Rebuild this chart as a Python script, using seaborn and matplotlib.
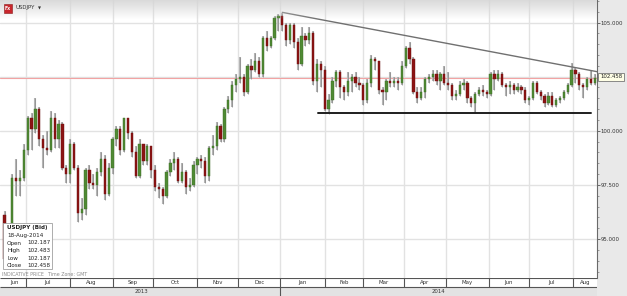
import numpy as np
import pandas as pd
import matplotlib
matplotlib.use("Agg")
import matplotlib.pyplot as plt
import seaborn as sns
from matplotlib.patches import Rectangle
from matplotlib.ticker import MultipleLocator, FixedLocator, FuncFormatter

sns.set_theme(style="white")
plt.rcParams['font.family'] = ['DejaVu Sans']

# ---- data: two-trading-day candles, USDJPY (Bid), 13-Jun-2013 .. 18-Aug-2014 ----
opens = [
    96.1, 94.1, 95.3, 97.8, 97.7, 97.8,
    99.1, 100.6, 100.1, 101.0, 99.6, 99.2, 99.1, 100.6, 99.6, 100.3, 98.3, 98.0,
    99.4, 98.3, 96.2, 96.4, 98.2, 97.6, 97.5, 98.1, 98.7, 97.1,
    98.3, 99.6, 100.1, 99.1, 100.6, 99.9, 99.0, 97.9, 99.4, 98.6, 99.3,
    98.2, 97.4, 97.3, 97.0, 98.1, 98.5, 98.7, 97.7, 98.1, 97.4, 97.5,
    98.4, 98.7, 98.6, 97.9, 99.2, 99.3, 100.2, 99.6, 101.0, 101.4, 102.1,
    102.4, 102.5, 101.8, 103.0, 102.8, 103.2, 102.6, 104.3, 103.9, 104.3, 105.2,
    105.3, 104.9, 104.2, 104.9, 104.1, 103.1, 104.4, 104.2, 104.5, 102.3, 103.1, 102.8,
    101.0, 101.4, 102.3, 102.7, 102.0, 101.8, 102.3, 102.5, 102.2, 102.1,
    101.4, 102.2, 103.3, 103.2, 101.9, 101.8, 102.3, 102.2, 102.3, 102.2,
    103.0, 103.8, 103.3, 101.8, 101.5, 101.8, 102.4, 102.5, 102.6, 102.3, 102.6,
    102.2, 102.1, 101.6, 101.7, 102.1, 102.2, 101.5, 101.3, 101.7, 101.9, 101.8,
    101.7, 102.6, 102.4, 102.6, 102.1, 102.0, 102.1, 101.9, 102.0, 101.9,
    101.4, 101.5, 102.2, 101.8, 101.6, 101.3, 101.6, 101.2, 101.4, 101.5, 101.8,
    102.1, 102.8, 102.6, 102.1, 102.0, 102.4, 102.19,
]
highs = [
    96.3, 95.6, 98.0, 98.7, 98.2, 99.4,
    100.7, 100.8, 101.5, 101.1, 99.8, 100.0, 100.9, 100.8, 100.5, 100.4, 98.4, 99.6,
    99.5, 98.4, 96.9, 98.3, 98.4, 98.0, 98.3, 99.0, 98.9, 98.5,
    99.7, 100.2, 100.2, 100.6, 100.6, 100.0, 99.3, 99.6, 99.4, 99.4, 99.3,
    98.4, 97.6, 97.4, 98.2, 98.7, 99.0, 98.8, 98.5, 98.2, 97.8, 98.6,
    98.8, 98.9, 98.8, 99.3, 99.8, 100.4, 100.3, 101.1, 101.6, 102.3, 102.6,
    103.4, 102.6, 103.1, 103.3, 103.6, 103.4, 104.4, 104.6, 104.4, 105.3, 105.4,
    105.44, 105.0, 105.0, 105.0, 104.3, 104.8, 104.5, 104.8, 104.6, 103.3, 103.2, 103.0,
    101.7, 102.5, 102.8, 102.8, 102.1, 102.7, 102.6, 102.7, 102.5, 102.2,
    102.4, 103.5, 103.4, 103.2, 102.0, 102.4, 102.7, 102.5, 102.5, 103.2,
    103.9, 104.1, 103.4, 102.0, 102.0, 102.5, 102.6, 102.8, 102.8, 102.7, 103.0,
    102.7, 102.2, 101.9, 102.3, 102.4, 102.3, 101.6, 101.8, 102.0, 102.1, 101.9,
    102.7, 102.8, 102.8, 102.7, 102.2, 102.3, 102.2, 102.2, 102.1, 102.0,
    101.6, 102.3, 102.3, 101.9, 101.7, 101.8, 101.8, 101.5, 101.6, 101.9, 102.2,
    103.15, 102.9, 102.7, 102.2, 102.5, 102.8, 102.6,
]
lows = [
    93.8, 94.0, 95.1, 97.0, 97.0, 97.7,
    98.9, 99.1, 99.9, 99.3, 98.3, 98.9, 99.0, 99.2, 99.2, 98.2, 97.6, 97.6,
    98.2, 95.8, 95.9, 96.1, 97.3, 97.3, 97.0, 97.9, 96.8, 97.0,
    98.0, 99.3, 98.9, 99.0, 99.6, 98.8, 97.8, 97.8, 98.4, 98.4, 97.8,
    97.2, 96.9, 96.6, 96.9, 97.9, 98.2, 97.6, 97.6, 97.1, 97.2, 97.4,
    98.0, 98.3, 97.6, 97.7, 98.9, 99.1, 99.5, 99.5, 100.8, 101.1, 101.8,
    102.2, 101.6, 101.7, 102.4, 102.7, 102.5, 102.5, 103.7, 103.8, 104.2, 104.6,
    104.6, 103.9, 104.0, 103.8, 102.8, 103.0, 103.9, 104.0, 102.1, 101.8, 102.0, 100.9,
    100.76, 101.3, 102.0, 101.5, 101.4, 101.6, 101.8, 102.0, 101.9, 101.2,
    101.3, 102.0, 102.8, 101.7, 101.2, 101.4, 102.0, 102.0, 101.9, 102.1,
    102.9, 103.1, 101.7, 101.3, 101.4, 101.5, 102.2, 102.3, 102.1, 101.9, 102.1,
    101.9, 101.4, 101.4, 101.6, 101.9, 101.3, 101.1, 100.8, 101.6, 101.6, 101.5,
    101.6, 101.9, 102.3, 102.0, 101.6, 101.7, 101.7, 101.8, 101.7, 101.3,
    101.2, 101.4, 101.7, 101.4, 101.1, 101.2, 101.1, 101.1, 101.3, 101.4, 101.7,
    102.0, 102.2, 101.9, 101.5, 101.9, 102.1, 102.1,
]
closes = [
    94.1, 95.3, 97.8, 97.7, 97.8, 99.1,
    100.6, 100.1, 101.0, 99.6, 99.2, 99.1, 100.6, 99.6, 100.3, 98.3, 98.0, 99.4,
    98.3, 96.2, 96.4, 98.2, 97.6, 97.5, 98.1, 98.7, 97.1, 98.3,
    99.6, 100.1, 99.1, 100.6, 99.9, 99.0, 97.9, 99.4, 98.6, 99.3, 98.2,
    97.4, 97.3, 97.0, 98.1, 98.5, 98.7, 97.7, 98.1, 97.4, 97.5, 98.4,
    98.7, 98.6, 97.9, 99.2, 99.3, 100.2, 99.6, 101.0, 101.4, 102.1, 102.4,
    102.5, 101.8, 103.0, 102.8, 103.2, 102.6, 104.3, 103.9, 104.3, 105.2, 105.3,
    104.9, 104.2, 104.9, 104.1, 103.1, 104.4, 104.2, 104.5, 102.3, 103.1, 102.8, 101.0,
    101.4, 102.3, 102.7, 102.0, 101.8, 102.3, 102.5, 102.2, 102.1, 101.4,
    102.2, 103.3, 103.2, 101.9, 101.8, 102.3, 102.2, 102.3, 102.2, 103.0,
    103.8, 103.3, 101.8, 101.5, 101.8, 102.4, 102.5, 102.6, 102.3, 102.6, 102.2,
    102.1, 101.6, 101.7, 102.1, 102.2, 101.5, 101.3, 101.7, 101.9, 101.8, 101.7,
    102.6, 102.4, 102.6, 102.1, 102.0, 102.1, 101.9, 102.0, 101.9, 101.4,
    101.5, 102.2, 101.8, 101.6, 101.3, 101.6, 101.2, 101.4, 101.5, 101.8, 102.1,
    102.8, 102.6, 102.1, 102.0, 102.4, 102.19, 102.458,
]

start_date, end_date = "2013-06-13", "2014-08-18"
last_price = 102.458
tooltip_rows = [("Open", "102.187"), ("High", "102.483"), ("Low", "102.187"), ("Close", "102.458")]
# drawn trend lines (candle index, price)
resist_x, resist_y = [72.0, 153.6], [105.47, 102.73]
support_x, support_y = [81.25, 152.0], [100.82, 100.82]
y_major = [95.0, 97.5, 100.0, 102.5, 105.0]

# ---- geometry ----
W, H = 627, 296
fig = plt.figure(figsize=(W / 100, H / 100), dpi=100, facecolor="#e9e9e9")
PLOT_R, PLOT_B = 597, 278
XMIN, XMAX = -1.2, 153.6
YMIN, YMAX = 93.2, 106.04

ax = fig.add_axes([0, 1 - PLOT_B / H, PLOT_R / W, PLOT_B / H])
ax.set_facecolor("white")
ax.set_xlim(XMIN, XMAX)
ax.set_ylim(YMIN, YMAX)

o = np.array(opens); h = np.array(highs); l = np.array(lows); c = np.array(closes)
x = np.arange(len(c))

# month boundaries from trading days (each candle = 2 trading days)
days = pd.bdate_range(start_date, end_date)
month_id = days.year * 12 + days.month
first_idx = [0] + [i for i in range(1, len(days)) if month_id[i] != month_id[i - 1]]
bounds = [d / 2 - 0.5 for d in first_idx]
month_names = [days[d].strftime("%b") for d in first_idx]
years = [days[d].year for d in first_idx]

# grid
for yv in y_major:
    ax.axhline(yv, color="#e2e2e2", lw=1.0, zorder=0)
for b in bounds[1:]:
    ax.axvline(b, color="#e2e2e2", lw=1.0, zorder=0)

# candles
up = c >= o
body_lo = np.minimum(o, c)
body_h = np.maximum(np.abs(c - o), 0.04)
ax.vlines(x, l, h, color="#b4b4b4", lw=1.5, zorder=2)
ax.vlines(x, l, h, color="#8a8a8a", lw=0.5, zorder=2.1)
ax.bar(x[up], body_h[up], bottom=body_lo[up], width=0.6, color="#4f8a34",
       edgecolor="#3c6b25", lw=0.3, zorder=3)
ax.bar(x[~up], body_h[~up], bottom=body_lo[~up], width=0.6, color="#8c1414",
       edgecolor="#6e0f0f", lw=0.3, zorder=3)

# current price line
ax.axhline(last_price, color="#f2a3a3", lw=0.8, zorder=1)

# trend lines drawn with seaborn
sns.lineplot(x=resist_x, y=resist_y, ax=ax, color="#707070", lw=1.0, legend=False, zorder=4)
sns.lineplot(x=support_x, y=support_y, ax=ax, color="#1e1e1e", lw=1.4, legend=False, zorder=4)
ax.set_xlabel(""); ax.set_ylabel("")

# axes styling
for s in ["left", "top", "bottom"]:
    ax.spines[s].set_visible(False)
ax.spines["right"].set_color("#6a6a6a")
ax.spines["right"].set_linewidth(0.8)
ax.set_xticks([])
ax.yaxis.tick_right()
ax.yaxis.set_major_locator(FixedLocator(y_major))
ax.yaxis.set_minor_locator(MultipleLocator(0.5))
ax.yaxis.set_major_formatter(FuncFormatter(lambda v, p: "" if abs(v - 102.5) < 1e-6 else f"{v:.3f}"))
ax.tick_params(axis="y", which="major", length=2, width=0.6, color="#555555",
               labelsize=3.9, labelcolor="#333333", pad=0.6, right=True, direction="out")
ax.tick_params(axis="y", which="minor", length=1.6, width=0.5, color="#777777", right=True)

# header gradient strip
axh = fig.add_axes([0, 1 - 20 / H, PLOT_R / W, 20 / H])
grad = np.zeros((20, 2, 4))
grad[..., :3] = 0.84
grad[..., 3] = np.linspace(0.9, 0.0, 20)[:, None]
axh.imshow(grad, aspect="auto", extent=[0, 1, 0, 1], interpolation="bilinear")
axh.axis("off")
fig.add_artist(Rectangle((4 / W, 1 - 12.5 / H), 8 / W, 9 / H, transform=fig.transFigure,
                         fc="#c8262c", ec="#8a1a1a", lw=0.4, zorder=5))
fig.text(8 / W, 1 - 8 / H, "Fx", fontsize=3.3, color="white", ha="center", va="center",
         fontweight="bold", zorder=6)
fig.text(15 / W, 1 - 8 / H, "USDJPY", fontsize=3.9, color="#333333", va="center", zorder=6)
fig.text(37.5 / W, 1 - 8 / H, "\u25BC", fontsize=2.8, color="#333333", va="center", zorder=6)

# price label on right axis
fig.text(600 / W, 1 - 77 / H, f"{last_price:.3f}", fontsize=3.9, color="#222222",
         va="center", ha="left", zorder=7,
         bbox=dict(boxstyle="square,pad=0.3", fc="#ffffe6", ec="#777777", lw=0.6))

# tooltip box
fig.add_artist(Rectangle((3 / W, 1 - 269 / H), 49 / W, 46 / H, transform=fig.transFigure,
                         fc="white", ec="#a0a0a0", lw=0.6, zorder=5))
fig.text(7 / W, 1 - 227.5 / H, "USDJPY (Bid)", fontsize=4.1, fontweight="bold",
         color="#222222", va="center", zorder=6)
fig.text(7 / W, 1 - 235.5 / H, "18-Aug-2014", fontsize=4.1, color="#222222", va="center", zorder=6)
for k, (lab, val) in enumerate(tooltip_rows):
    yy = 1 - (243 + 7.5 * k) / H
    fig.text(7 / W, yy, lab, fontsize=4.1, color="#222222", va="center", zorder=6)
    fig.text(27 / W, yy, val, fontsize=4.1, color="#222222", va="center", zorder=6)
fig.text(2 / W, 1 - 275 / H, "INDICATIVE PRICE", fontsize=3.4, color="#8a8a8a", va="center", zorder=6)
fig.text(48 / W, 1 - 275 / H, "Time Zone: GMT", fontsize=3.4, color="#8a8a8a", va="center", zorder=6)

# bottom date axis (month row + year row)
axb = fig.add_axes([0, 0, PLOT_R / W, (H - PLOT_B) / H])
axb.set_xlim(XMIN, XMAX)
axb.set_ylim(0, H - PLOT_B)
axb.axis("off")
axb.add_patch(Rectangle((XMIN, 9), XMAX - XMIN, 9, fc="white", ec="none"))
axb.add_patch(Rectangle((XMIN, 0), XMAX - XMIN, 9, fc="#e3e3e3", ec="none"))
axb.hlines([17.6, 9], XMIN, XMAX, color="#555555", lw=0.8)
edges = bounds + [XMAX]
for i, name in enumerate(month_names):
    if i > 0:
        axb.vlines(bounds[i], 9, 18, color="#555555", lw=0.8)
    left = max(edges[i], XMIN)
    axb.text((left + edges[i + 1]) / 2, 13.3, name, fontsize=3.9, color="#333333",
             ha="center", va="center")
year_starts = [i for i in range(len(years)) if i == 0 or years[i] != years[i - 1]]
for j, i in enumerate(year_starts):
    left = max(edges[i], XMIN)
    right = edges[year_starts[j + 1]] if j + 1 < len(year_starts) else XMAX
    if j > 0:
        axb.vlines(edges[i], 0, 9, color="#555555", lw=0.8)
    axb.text((left + right) / 2, 4.2, str(years[i]), fontsize=3.9, color="#333333",
             ha="center", va="center")

fig.savefig("out.png", dpi=100, facecolor=fig.get_facecolor())
